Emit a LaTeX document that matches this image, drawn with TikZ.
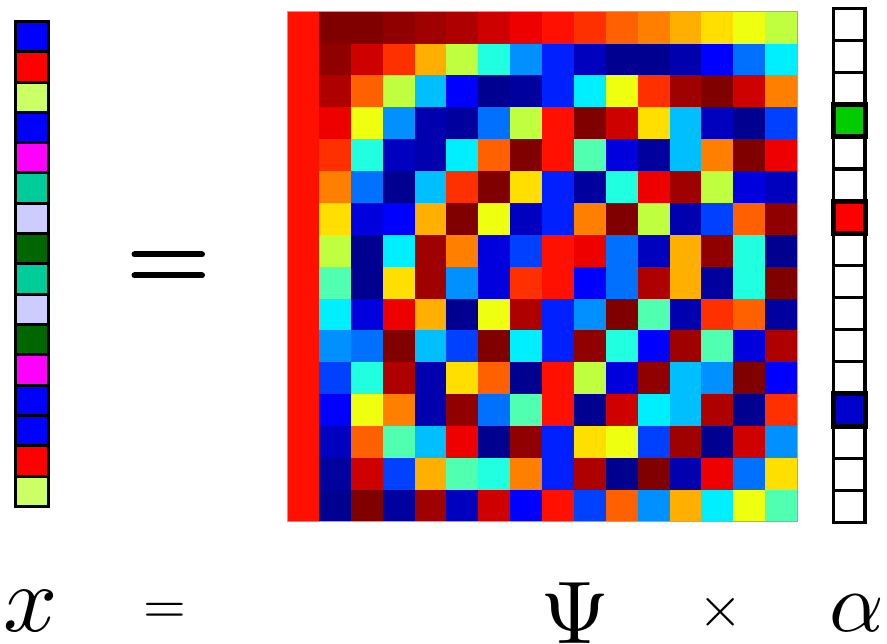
\documentclass[tikz,border=0pt]{standalone}
\definecolor{vblue}{rgb}{0,0,1}
\definecolor{vred}{rgb}{1,0,0}
\definecolor{vlime}{rgb}{0.8,1,0.4}
\definecolor{vmag}{rgb}{1,0,1}
\definecolor{vteal}{rgb}{0,0.8,0.6}
\definecolor{vlav}{rgb}{0.8,0.8,1}
\definecolor{vdkgreen}{rgb}{0,0.4,0}
\definecolor{agreen}{rgb}{0,0.8,0}
\definecolor{ared}{rgb}{1,0,0}
\definecolor{ablue}{rgb}{0,0,0.8}
\tikzset{
  vcell/.style={draw=black, line width=3pt},
  acell/.style={draw=black, line width=3.3pt, fill=white},
  ahl/.style={draw=black, line width=5pt},
  lbl/.style={inner sep=0pt, anchor=base, text=black},
  bar/.style={line width=6pt, line cap=round}
}
\begin{document}
\begin{tikzpicture}[x=1pt,y=-1pt]
\useasboundingbox (0,0) rectangle (887,644);
% DCT matrix Psi
\foreach \n in {0,...,15}{
  \foreach \k in {0,...,15}{
    \pgfmathsetmacro\v{ifthenelse(\k==0,0.25,0.353553*cos(mod(5.625*(2*\n+1)*\k,360)))}
    \pgfmathsetmacro\t{(\v+0.351851)/0.703702}
    \pgfmathsetmacro\idx{min(63,floor(\t*64))}
    \pgfmathsetmacro\tq{(\idx+1)/64}
    \pgfmathsetmacro\r{max(0,min(1,min(4*\tq-1.5,4.5-4*\tq)))}
    \pgfmathsetmacro\g{max(0,min(1,min(4*\tq-0.5,3.5-4*\tq)))}
    \pgfmathsetmacro\b{max(0,min(1,min(4*\tq+0.5,2.5-4*\tq)))}
    \definecolor{cc}{rgb}{\r,\g,\b}
    \fill[cc] ({287+31.875*\k},{11.7+31.875*\n}) rectangle ++(31.9,31.9);
  }
}
\draw[black!35, line width=1pt] (287,11.7) rectangle (797,521.7);
% x vector
\foreach \c [count=\i from 0] in {vblue,vred,vlime,vblue,vmag,vteal,vlav,vdkgreen,vteal,vlav,vdkgreen,vmag,vblue,vblue,vred,vlime}{
  \draw[vcell, fill=\c] (15.8,{21.5+30.3*\i}) rectangle ++(32.7,30.3);
}
% alpha vector
\foreach \i in {0,...,15}{
  \draw[acell] (833.3,{8.3+32.14*\i}) rectangle ++(31.7,32.14);
}
\draw[ahl, fill=agreen] (833.3,{8.3+32.14*3}) rectangle ++(31.7,32.14);
\draw[ahl, fill=ared] (833.3,{8.3+32.14*6}) rectangle ++(31.7,32.14);
\draw[ahl, fill=ablue] (833.3,{8.3+32.14*12}) rectangle ++(31.7,32.14);
% big equals sign
\coordinate (e1a) at (134.5,254.5);
\coordinate (e1b) at (202,254.5);
\coordinate (e2a) at (134.5,275.5);
\coordinate (e2b) at (202,275.5);
\draw[bar] (e1a) -- (e1b);
\draw[bar] (e2a) -- (e2b);
% labels
\node[lbl, scale=9.5] (lx) at (30.5,631) {$x$};
\node[lbl, scale=5.5] (leq) at (165,623) {$=$};
\node[lbl, scale=8.9] (lpsi) at (575,643) {$\Psi$};
\node[lbl, scale=5.7] (ltimes) at (721,626) {$\times$};
\node[lbl, scale=8.5] (lalpha) at (857,631) {$\alpha$};
\end{tikzpicture}
\end{document}
